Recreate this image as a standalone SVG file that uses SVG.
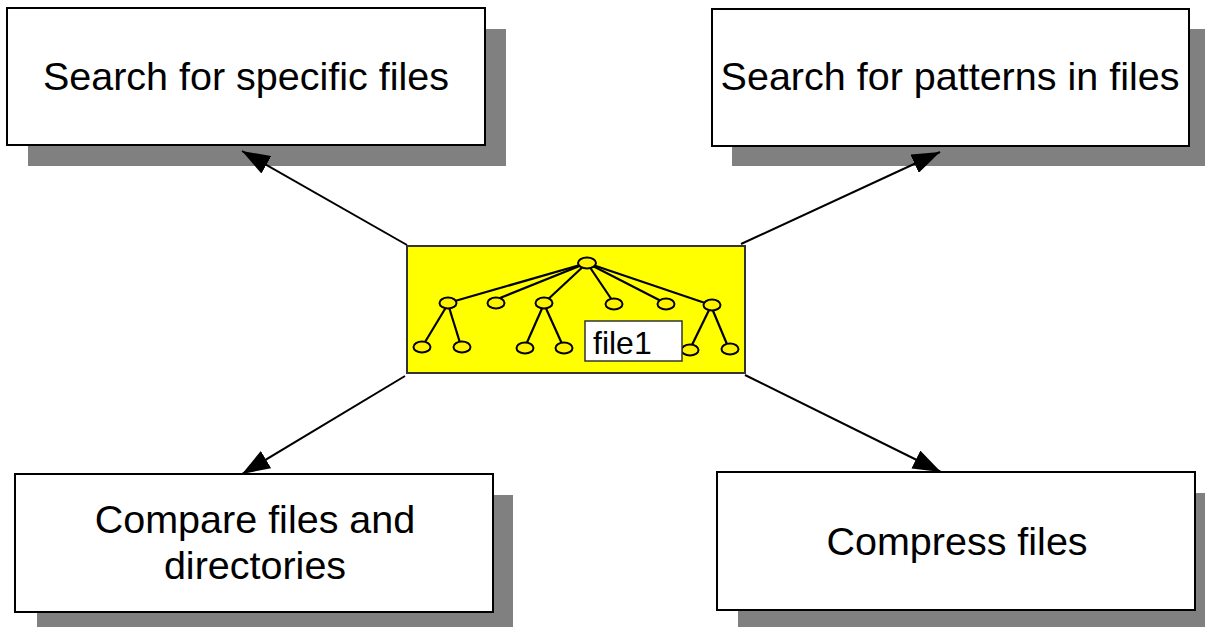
<svg xmlns="http://www.w3.org/2000/svg" width="1205" height="628" viewBox="0 0 1205 628">
<style>
.shadow{fill:#808080;stroke:none}
.box{fill:#fff;stroke:#000;stroke-width:2}
.lbl{font-family:"Liberation Sans",Arial,sans-serif;font-size:39.5px;fill:#000;text-anchor:middle}
.conn{stroke:#000;stroke-width:2;fill:none;marker-end:url(#ah)}
.tl{stroke:#000;stroke-width:2.2;fill:none}
.tn{fill:#fff200;stroke:#000;stroke-width:2}
</style>
<defs>
<marker id="ah" viewBox="0 0 28 20" refX="28" refY="10" markerWidth="28" markerHeight="20" markerUnits="userSpaceOnUse" orient="auto">
<path d="M0,0 L28,10 L0,20 z" fill="#000"/>
</marker>
</defs>
<rect width="1205" height="628" fill="#fff"/>
<g id="node-search-files">
<rect class="shadow" x="28" y="29" width="478" height="137"/>
<rect class="box" x="7" y="8" width="478" height="137"/>
<text class="lbl" x="246" y="90">Search for specific files</text>
</g>
<g id="node-search-patterns">
<rect class="shadow" x="732" y="29" width="473" height="137"/>
<rect class="box" x="712" y="9" width="477" height="137"/>
<text class="lbl" x="950" y="90">Search for patterns in files</text>
</g>
<g id="node-compare">
<rect class="shadow" x="37" y="495" width="476" height="132"/>
<rect class="box" x="15" y="474" width="478" height="138"/>
<text class="lbl" x="255" y="533">Compare files and</text>
<text class="lbl" x="255" y="579">directories</text>
</g>
<g id="node-compress">
<rect class="shadow" x="738" y="493" width="467" height="134"/>
<rect class="box" x="717" y="472" width="478" height="138"/>
<text class="lbl" x="957" y="555">Compress files</text>
</g>
<g id="node-tree">
<rect x="407" y="246" width="338" height="127" fill="#ffff00" stroke="#333" stroke-width="2"/>
<g class="tl">
<line x1="587" y1="263" x2="448" y2="303"/>
<line x1="587" y1="263" x2="500" y2="298"/>
<line x1="587" y1="263" x2="544" y2="303"/>
<line x1="587" y1="263" x2="614" y2="303"/>
<line x1="587" y1="263" x2="665" y2="303"/>
<line x1="587" y1="263" x2="711" y2="305"/>
<line x1="448" y1="304" x2="422" y2="347"/>
<line x1="448" y1="304" x2="461" y2="346"/>
<line x1="544" y1="304" x2="525" y2="347"/>
<line x1="544" y1="304" x2="563" y2="346"/>
<line x1="711" y1="306" x2="690" y2="349"/>
<line x1="711" y1="306" x2="729" y2="349"/>
</g>
<ellipse class="tn" cx="587" cy="263" rx="9" ry="5.5"/>
<ellipse class="tn" cx="448" cy="303" rx="8.5" ry="5.5"/>
<ellipse class="tn" cx="496" cy="303" rx="8.5" ry="5.5"/>
<ellipse class="tn" cx="544" cy="303" rx="8.5" ry="5.5"/>
<ellipse class="tn" cx="614" cy="304" rx="8.5" ry="5.5"/>
<ellipse class="tn" cx="666" cy="304" rx="8.5" ry="5.5"/>
<ellipse class="tn" cx="712" cy="305" rx="8.5" ry="5.5"/>
<ellipse class="tn" cx="422" cy="347" rx="8.5" ry="5.5"/>
<ellipse class="tn" cx="462" cy="347" rx="8.5" ry="5.5"/>
<ellipse class="tn" cx="525" cy="348" rx="8.5" ry="5.5"/>
<ellipse class="tn" cx="564" cy="348" rx="8.5" ry="5.5"/>
<ellipse class="tn" cx="690" cy="350" rx="8.5" ry="5.5"/>
<ellipse class="tn" cx="730" cy="349" rx="8.5" ry="5.5"/>
<rect x="585" y="321" width="97" height="40" fill="#fff" stroke="#333" stroke-width="1.5"/>
<text x="593" y="354" font-family="'Liberation Sans',Arial,sans-serif" font-size="32" fill="#000">file1</text>
</g>
<g id="connectors">
<line class="conn" x1="407" y1="245" x2="242" y2="151"/>
<line class="conn" x1="741" y1="244" x2="940" y2="152"/>
<line class="conn" x1="405" y1="376" x2="242" y2="474"/>
<line class="conn" x1="745" y1="375" x2="941" y2="472"/>
</g>
</svg>
